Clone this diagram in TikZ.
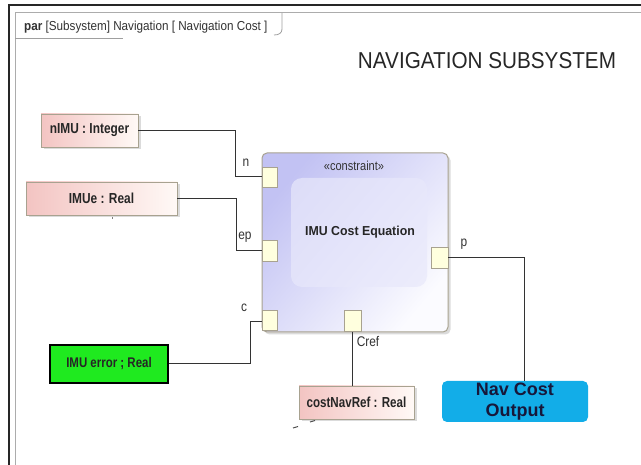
\documentclass[tikz,border=0pt]{standalone}
\usepackage{fontspec}
\setmainfont{Liberation Sans}
\usetikzlibrary{shadows}
\definecolor{pinkL}{HTML}{F3C4C2}
\definecolor{pinkR}{HTML}{FFF9F6}
\definecolor{boxline}{HTML}{A8A290}
\definecolor{blockL}{HTML}{C2C2F3}
\definecolor{blockR}{HTML}{FBFBFF}
\definecolor{innerfill}{HTML}{E8E8FB}
\definecolor{portfill}{HTML}{FFFFDE}
\definecolor{errgreen}{HTML}{1FEA1F}
\definecolor{navblue}{HTML}{12ADE8}
\definecolor{navtext}{HTML}{17173A}
\newcommand\narrowtxt[2]{\scalebox{#1}[1]{#2}}
\begin{document}
\begin{tikzpicture}[x=1pt,y=-1pt,
  part/.style={draw=boxline, line width=0.9pt, left color=pinkL, right color=pinkR,
    drop shadow={shadow xshift=2.5pt, shadow yshift=-2.5pt, fill=gray!55},
    inner sep=0pt, font=\fontsize{14.5}{16}\selectfont\bfseries, text=black!85},
  portbox/.style={draw=boxline, line width=0.8pt, fill=portfill, minimum width=15pt, minimum height=20pt, inner sep=0pt},
  conn/.style={draw=black!80, line width=1pt},
  lbl/.style={font=\fontsize{14}{16}\selectfont, text=black!80, inner sep=0pt}
]
\useasboundingbox (0,0) rectangle (641,465);
\fill[white] (0,0) rectangle (641,465);
% frame
\draw[line width=1.4pt, black!85] (9,470) -- (9,5) -- (650,5);
\draw[line width=1pt, gray!65] (15,470) -- (15,13) -- (650,13);
\draw[line width=0.8pt, gray!75] (15,38) -- (123,38);
\draw[line width=0.8pt, gray!75] (282,13) -- (282,29) .. controls (282,33) and (279,35) .. (274,35);
\node[anchor=west, inner sep=0pt, font=\fontsize{13}{15}\selectfont, text=black!80] (tab) at (24,27)
  {\narrowtxt{0.9}{\textbf{par} [Subsystem] Navigation [ Navigation Cost ]}};
% title
\node[inner sep=0pt, font=\fontsize{23}{25}\selectfont, text=black!85] (title) at (487,61) {\narrowtxt{0.9}{NAVIGATION SUBSYSTEM}};

% constraint block
\node[draw=boxline, line width=1pt, rounded corners=5pt, left color=blockL, right color=blockR, shading angle=50,
  drop shadow={shadow xshift=2.5pt, shadow yshift=-2.5pt, fill=gray!55},
  minimum width=186pt, minimum height=179pt] (block) at (355,242.5) {};
\node[fill=innerfill, opacity=0.7, rounded corners=11pt, minimum width=136pt, minimum height=109pt] (inner) at (359,232.5) {};
\node[inner sep=0pt, font=\fontsize{13}{15}\selectfont\bfseries, text=black!85] (eqn) at (360,232) {\narrowtxt{0.95}{IMU Cost Equation}};
\node[inner sep=0pt, font=\fontsize{13}{15}\selectfont, text=black!80] (stereo) at (354,166) {\narrowtxt{0.85}{«constraint»}};

% ports
\node[portbox] (pn) at (269.5,177) {};
\node[portbox, minimum height=21pt] (pep) at (269.5,251) {};
\node[portbox] (pc) at (269.5,320) {};
\node[portbox, minimum width=17pt, minimum height=21pt] (pcref) at (352.5,321) {};
\node[portbox, minimum width=17pt, minimum height=21pt] (pp) at (439.5,257.5) {};

% value parts
\node[part, minimum width=97pt, minimum height=33pt] (nimu) at (89.5,130.5) {\narrowtxt{0.82}{nIMU : Integer}};
\node[part, minimum width=151pt, minimum height=33pt] (imue) at (101.5,198.5) {\narrowtxt{0.82}{IMUe : Real}};
\node[part, minimum width=115pt, minimum height=33pt] (cnr) at (356.5,402.5) {\narrowtxt{0.8}{costNavRef : Real}};
\node[draw=black, line width=1.8pt, fill=errgreen, minimum width=118pt, minimum height=38pt, inner sep=0pt,
  font=\fontsize{14}{16}\selectfont\bfseries, text=black!85] (err) at (109,364) {\narrowtxt{0.82}{IMU error ; Real}};
\node[fill=navblue, rounded corners=5pt, minimum width=146pt, minimum height=41pt, inner sep=0pt, align=center,
  font=\fontsize{18}{20.5}\selectfont\bfseries, text=navtext] (nav) at (515,401.5) {Nav Cost\\Output};

% junction coordinates
\coordinate (jn) at (235,0);
\coordinate (jep) at (236,0);
\coordinate (jc) at (250,0);
\coordinate (jp) at (524,0);

% connectors
\draw[conn] (nimu.east) -- (nimu.east -| jn) |- (pn.west);
\draw[conn] (imue.east) -- (imue.east -| jep) |- (pep.west);
\draw[conn] (err.east) -- (err.east -| jc) |- ([yshift=-2pt]pc.west);
\draw[conn] (pcref.south) -- (pcref.south |- cnr.north);
\draw[conn] (pp.east) -- (pp.east -| jp) -- (jp |- nav.north);

% labels
\node[lbl] (ln) at (246,163) {\narrowtxt{0.85}{n}};
\node[lbl] (lep) at (245,237) {\narrowtxt{0.85}{ep}};
\node[lbl] (lc) at (244,308) {\narrowtxt{0.85}{c}};
\node[lbl] (lp) at (464,244) {\narrowtxt{0.85}{p}};
\node[lbl] (lcref) at (368,342) {\narrowtxt{0.85}{Cref}};

% small stray marks
\draw[black!70, line width=1pt] (293,428) -- (298,426.5);
\draw[black!70, line width=1pt] (310,422) -- (315,420.5);
\draw[black!50, line width=0.8pt] (112,217) -- (112,219);
\end{tikzpicture}
\end{document}
